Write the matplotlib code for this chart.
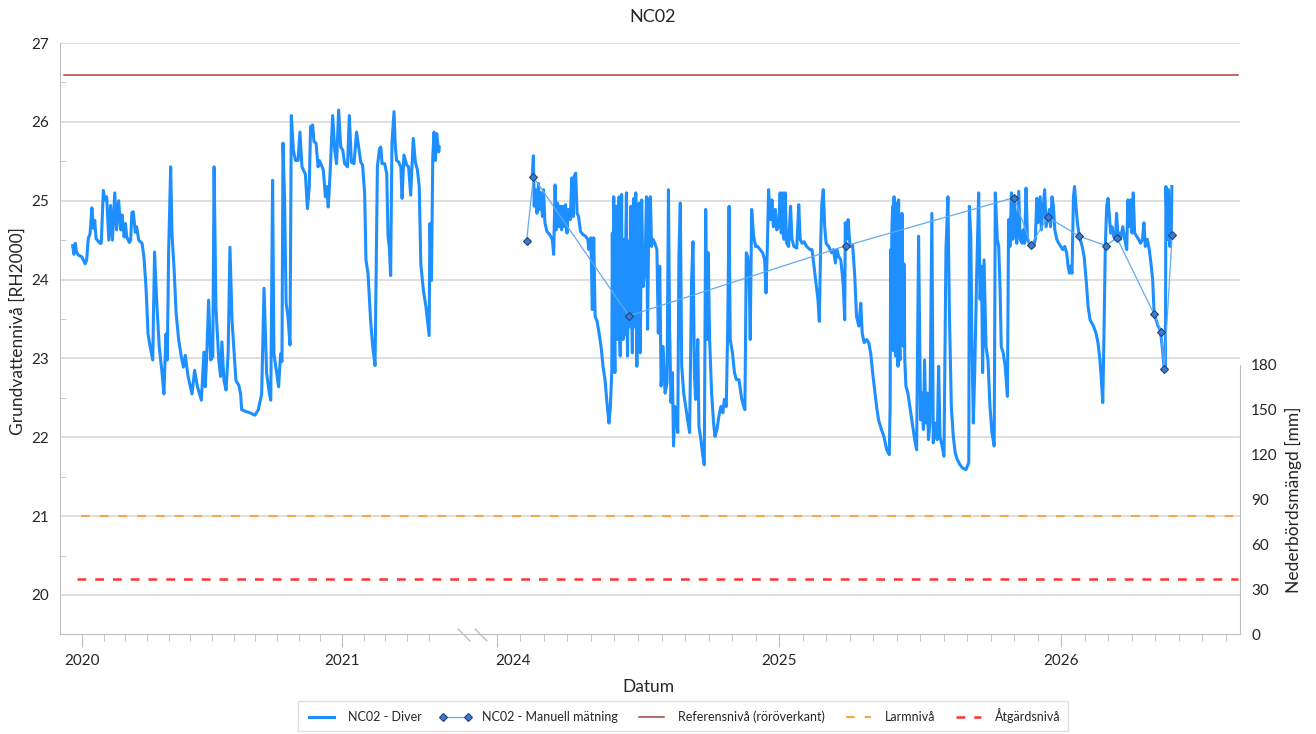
import numpy as np
import matplotlib
matplotlib.use("Agg")
import matplotlib.pyplot as plt
from matplotlib.transforms import ScaledTranslation, blended_transform_factory

plt.rcParams['font.family'] = ['Lato', 'DejaVu Sans']

###############################################
## Data
###############################################

# Diver logger, first period (2020 - spring 2021), decimal years
diver_a_year = [
    2019.964, 2019.969, 2019.974, 2019.979, 2019.986, 2019.999, 2020.012, 2020.018,
    2020.024, 2020.031, 2020.038, 2020.044, 2020.049, 2020.054, 2020.069, 2020.074,
    2020.082, 2020.088, 2020.095, 2020.103, 2020.110, 2020.117, 2020.126, 2020.133,
    2020.141, 2020.149, 2020.154, 2020.162, 2020.167, 2020.172, 2020.182, 2020.187,
    2020.192, 2020.197, 2020.205, 2020.210, 2020.218, 2020.231, 2020.238, 2020.246,
    2020.254, 2020.262, 2020.272, 2020.279, 2020.287, 2020.297, 2020.308, 2020.315,
    2020.323, 2020.328, 2020.333, 2020.341, 2020.346, 2020.354, 2020.362, 2020.372,
    2020.382, 2020.390, 2020.397, 2020.408, 2020.423, 2020.433, 2020.444, 2020.459,
    2020.469, 2020.474, 2020.479, 2020.487, 2020.495, 2020.503, 2020.508, 2020.515,
    2020.526, 2020.533, 2020.538, 2020.546, 2020.554, 2020.562, 2020.569, 2020.577,
    2020.592, 2020.603, 2020.610, 2020.614, 2020.627, 2020.646, 2020.665, 2020.678,
    2020.691, 2020.700, 2020.710, 2020.721, 2020.726, 2020.733, 2020.738, 2020.749,
    2020.756, 2020.764, 2020.769, 2020.773, 2020.779, 2020.785, 2020.792, 2020.800,
    2020.805, 2020.813, 2020.821, 2020.831, 2020.838, 2020.846, 2020.854, 2020.859,
    2020.867, 2020.874, 2020.879, 2020.887, 2020.892, 2020.900, 2020.908, 2020.913,
    2020.921, 2020.928, 2020.936, 2020.941, 2020.947, 2020.954, 2020.964, 2020.972,
    2020.979, 2020.987, 2020.995, 2021.003, 2021.010, 2021.021, 2021.028, 2021.036,
    2021.046, 2021.056, 2021.064, 2021.072, 2021.079, 2021.087, 2021.092, 2021.100,
    2021.110, 2021.118, 2021.127, 2021.136, 2021.144, 2021.149, 2021.154, 2021.164,
    2021.172, 2021.177, 2021.182, 2021.187, 2021.192, 2021.200, 2021.205, 2021.210,
    2021.218, 2021.226, 2021.231, 2021.238, 2021.249, 2021.256, 2021.264, 2021.274,
    2021.282, 2021.290, 2021.297, 2021.303, 2021.313, 2021.323, 2021.335, 2021.338,
    2021.344, 2021.349, 2021.354, 2021.359, 2021.364, 2021.372, 2021.374]
diver_a_level = [
    24.43, 24.32, 24.46, 24.35, 24.31, 24.29, 24.20, 24.25,
    24.52, 24.58, 24.91, 24.65, 24.75, 24.52, 24.46, 24.46,
    25.13, 25.01, 25.05, 24.50, 24.94, 24.50, 25.10, 24.63,
    25.00, 24.63, 24.82, 24.54, 24.71, 24.54, 24.47, 24.50,
    24.85, 24.86, 24.60, 24.67, 24.50, 24.46, 24.29, 23.91,
    23.31, 23.15, 22.98, 24.35, 23.74, 23.15, 22.81, 22.55,
    23.31, 22.98, 24.33, 25.43, 24.58, 24.14, 23.57, 23.23,
    23.02, 22.89, 23.04, 22.77, 22.55, 22.85, 22.64, 22.47,
    23.08, 22.64, 22.98, 23.74, 22.98, 23.02, 25.43, 23.65,
    22.98, 22.77, 23.21, 22.72, 22.60, 23.06, 24.41, 23.48,
    22.72, 22.66, 22.55, 22.35, 22.33, 22.31, 22.28, 22.35,
    22.55, 23.89, 22.81, 22.55, 22.47, 25.26, 23.06, 22.81,
    22.64, 23.06, 22.96, 25.73, 25.01, 23.70, 23.53, 23.17,
    26.08, 25.64, 25.51, 25.51, 25.87, 25.43, 25.37, 25.34,
    24.90, 25.18, 25.94, 25.96, 25.75, 25.73, 25.43, 25.51,
    25.45, 25.39, 25.05, 25.18, 24.92, 25.34, 26.08, 25.64,
    25.47, 26.15, 25.68, 25.64, 25.47, 25.43, 26.08, 25.49,
    25.47, 25.87, 25.68, 25.49, 25.45, 25.09, 24.25, 24.08,
    23.48, 23.15, 22.91, 25.43, 25.66, 25.68, 25.47, 25.47,
    25.34, 24.54, 24.41, 24.05, 25.73, 26.13, 25.68, 25.51,
    25.49, 25.43, 25.03, 25.58, 25.45, 25.43, 25.07, 25.79,
    25.49, 25.39, 25.18, 24.20, 23.86, 23.65, 23.29, 24.71,
    23.99, 25.56, 25.87, 25.51, 25.85, 25.62, 25.68]

# Diver logger, second period (2024 - 2026)
diver_b_year = [
    2024.125, 2024.129, 2024.132, 2024.137, 2024.142, 2024.147, 2024.151, 2024.156,
    2024.161, 2024.165, 2024.170, 2024.177, 2024.187, 2024.196, 2024.201, 2024.206,
    2024.210, 2024.215, 2024.220, 2024.225, 2024.229, 2024.234, 2024.239, 2024.243,
    2024.248, 2024.253, 2024.260, 2024.265, 2024.270, 2024.274, 2024.279, 2024.284,
    2024.289, 2024.296, 2024.305, 2024.314, 2024.322, 2024.326, 2024.333, 2024.338,
    2024.343, 2024.348, 2024.355, 2024.362, 2024.369, 2024.376, 2024.383, 2024.390,
    2024.397, 2024.402, 2024.407, 2024.409, 2024.411, 2024.414, 2024.416, 2024.418,
    2024.420, 2024.423, 2024.425, 2024.428, 2024.430, 2024.433, 2024.435, 2024.437,
    2024.440, 2024.442, 2024.444, 2024.447, 2024.449, 2024.452, 2024.454, 2024.457,
    2024.459, 2024.461, 2024.463, 2024.466, 2024.468, 2024.471, 2024.473, 2024.475,
    2024.478, 2024.480, 2024.482, 2024.485, 2024.487, 2024.490, 2024.492, 2024.494,
    2024.496, 2024.499, 2024.501, 2024.504, 2024.506, 2024.508, 2024.511, 2024.513,
    2024.518, 2024.525, 2024.530, 2024.534, 2024.539, 2024.544, 2024.548, 2024.553,
    2024.560, 2024.567, 2024.572, 2024.577, 2024.582, 2024.589, 2024.596, 2024.603,
    2024.608, 2024.612, 2024.617, 2024.622, 2024.626, 2024.631, 2024.636, 2024.641,
    2024.645, 2024.650, 2024.655, 2024.662, 2024.669, 2024.676, 2024.683, 2024.690,
    2024.695, 2024.700, 2024.704, 2024.712, 2024.716, 2024.723, 2024.730, 2024.735,
    2024.740, 2024.745, 2024.749, 2024.754, 2024.761, 2024.768, 2024.773, 2024.780,
    2024.787, 2024.794, 2024.801, 2024.806, 2024.813, 2024.818, 2024.823, 2024.827,
    2024.835, 2024.842, 2024.849, 2024.858, 2024.868, 2024.875, 2024.879, 2024.884,
    2024.889, 2024.894, 2024.898, 2024.903, 2024.910, 2024.917, 2024.924, 2024.933,
    2024.942, 2024.949, 2024.954, 2024.959, 2024.963, 2024.970, 2024.975, 2024.980,
    2024.987, 2024.992, 2024.999, 2025.004, 2025.008, 2025.013, 2025.018, 2025.022,
    2025.027, 2025.034, 2025.041, 2025.046, 2025.053, 2025.063, 2025.070, 2025.075,
    2025.082, 2025.089, 2025.098, 2025.110, 2025.117, 2025.124, 2025.131, 2025.138,
    2025.143, 2025.148, 2025.152, 2025.157, 2025.162, 2025.167, 2025.176, 2025.186,
    2025.193, 2025.200, 2025.205, 2025.212, 2025.219, 2025.224, 2025.228, 2025.233,
    2025.235, 2025.240, 2025.245, 2025.252, 2025.261, 2025.268, 2025.275, 2025.283,
    2025.290, 2025.295, 2025.302, 2025.311, 2025.318, 2025.325, 2025.332, 2025.339,
    2025.346, 2025.353, 2025.363, 2025.372, 2025.382, 2025.391, 2025.394, 2025.396,
    2025.398, 2025.400, 2025.403, 2025.405, 2025.408, 2025.410, 2025.413, 2025.415,
    2025.417, 2025.419, 2025.422, 2025.424, 2025.426, 2025.429, 2025.431, 2025.434,
    2025.436, 2025.438, 2025.441, 2025.443, 2025.446, 2025.450, 2025.457, 2025.464,
    2025.474, 2025.481, 2025.488, 2025.495, 2025.502, 2025.507, 2025.512, 2025.516,
    2025.521, 2025.526, 2025.530, 2025.535, 2025.542, 2025.547, 2025.554, 2025.561,
    2025.566, 2025.571, 2025.578, 2025.585, 2025.592, 2025.599, 2025.604, 2025.611,
    2025.618, 2025.625, 2025.632, 2025.642, 2025.651, 2025.663, 2025.673, 2025.675,
    2025.680, 2025.684, 2025.689, 2025.694, 2025.701, 2025.708, 2025.713, 2025.718,
    2025.722, 2025.727, 2025.734, 2025.741, 2025.748, 2025.755, 2025.763, 2025.767,
    2025.774, 2025.779, 2025.784, 2025.788, 2025.795, 2025.802, 2025.810, 2025.814,
    2025.819, 2025.824, 2025.829, 2025.833, 2025.838, 2025.843, 2025.850, 2025.855,
    2025.862, 2025.866, 2025.871, 2025.876, 2025.881, 2025.888, 2025.895, 2025.902,
    2025.909, 2025.914, 2025.918, 2025.926, 2025.930, 2025.937, 2025.942, 2025.947,
    2025.952, 2025.959, 2025.963, 2025.968, 2025.973, 2025.978, 2025.985, 2025.992,
    2025.999, 2026.006, 2026.013, 2026.020, 2026.025, 2026.030, 2026.034, 2026.039,
    2026.044, 2026.048, 2026.053, 2026.058, 2026.065, 2026.075, 2026.082, 2026.089,
    2026.096, 2026.103, 2026.115, 2026.124, 2026.131, 2026.138, 2026.143, 2026.148,
    2026.152, 2026.157, 2026.162, 2026.167, 2026.171, 2026.176, 2026.181, 2026.186,
    2026.193, 2026.197, 2026.202, 2026.207, 2026.211, 2026.219, 2026.226, 2026.233,
    2026.237, 2026.242, 2026.247, 2026.252, 2026.256, 2026.261, 2026.268, 2026.275,
    2026.282, 2026.289, 2026.294, 2026.299, 2026.306, 2026.313, 2026.320, 2026.325,
    2026.330, 2026.337, 2026.344, 2026.351, 2026.356, 2026.361, 2026.365, 2026.370,
    2026.372, 2026.377, 2026.381, 2026.386, 2026.391, 2026.393]
diver_b_level = [
    25.31, 25.57, 24.93, 25.14, 24.84, 25.22, 24.89, 25.10,
    24.80, 25.14, 24.72, 24.61, 24.57, 24.51, 24.32, 25.20,
    24.63, 24.97, 24.67, 24.93, 24.63, 24.93, 24.67, 24.95,
    24.59, 24.89, 24.76, 25.29, 24.80, 25.31, 25.35, 24.84,
    24.80, 24.61, 24.57, 24.55, 24.51, 24.38, 24.53, 23.62,
    24.53, 23.53, 23.47, 23.32, 23.15, 22.90, 22.73, 22.44,
    22.18, 22.39, 22.82, 24.59, 23.30, 25.05, 23.40, 22.82,
    24.40, 24.93, 23.35, 23.24, 24.50, 25.05, 23.30, 23.03,
    24.45, 25.08, 23.40, 23.24, 24.40, 24.51, 23.30, 24.60,
    25.10, 23.50, 23.03, 24.40, 23.53, 24.50, 23.40, 24.93,
    23.60, 23.07, 24.40, 25.03, 23.40, 24.50, 25.10, 23.50,
    22.90, 24.30, 23.60, 24.97, 23.70, 23.07, 24.20, 25.01,
    23.91, 24.17, 25.05, 23.37, 25.01, 25.05, 24.42, 24.51,
    24.46, 24.38, 23.32, 24.17, 22.65, 23.15, 22.56, 22.69,
    25.14, 23.41, 22.44, 22.82, 21.89, 22.39, 22.31, 22.06,
    24.29, 24.97, 22.90, 22.56, 22.39, 22.22, 22.06, 24.00,
    24.48, 22.82, 22.48, 23.24, 22.14, 21.97, 21.76, 21.65,
    24.89, 23.24, 24.34, 23.24, 22.56, 22.18, 22.01, 22.10,
    22.27, 22.39, 22.31, 22.48, 22.39, 23.37, 24.93, 23.24,
    23.07, 22.82, 22.73, 22.73, 22.48, 22.39, 22.35, 24.34,
    24.29, 24.04, 23.24, 24.89, 24.55, 24.42, 24.42, 24.38,
    24.34, 24.25, 23.83, 24.46, 25.14, 24.76, 25.01, 24.67,
    24.89, 24.63, 24.67, 25.10, 24.59, 25.10, 24.51, 25.10,
    24.46, 24.42, 24.93, 24.51, 24.42, 24.40, 24.95, 24.51,
    24.46, 24.48, 24.42, 24.38, 24.38, 24.17, 23.96, 23.75,
    23.47, 24.51, 24.97, 25.14, 24.67, 24.46, 24.42, 24.34,
    24.38, 24.21, 24.38, 24.29, 24.25, 24.08, 23.91, 23.49,
    24.72, 24.51, 24.76, 24.42, 24.44, 24.08, 23.53, 23.41,
    23.70, 23.32, 23.20, 23.24, 23.20, 23.07, 22.82, 22.60,
    22.39, 22.22, 22.10, 22.01, 21.84, 21.78, 22.39, 24.38,
    23.20, 24.60, 24.93, 23.10, 25.05, 23.30, 23.03, 24.50,
    24.97, 23.20, 22.90, 25.01, 23.30, 22.98, 24.40, 23.20,
    24.84, 23.40, 23.15, 24.20, 22.98, 22.65, 22.56, 22.39,
    22.14, 21.97, 21.84, 24.55, 22.22, 22.56, 22.10, 22.98,
    22.18, 22.56, 21.97, 22.18, 24.84, 21.93, 22.18, 21.97,
    22.90, 22.01, 21.89, 21.76, 24.38, 25.05, 23.62, 22.39,
    22.01, 21.80, 21.72, 21.65, 21.61, 21.59, 21.68, 24.93,
    24.55, 23.24, 22.18, 22.82, 24.08, 25.10, 23.75, 24.17,
    22.82, 24.25, 23.15, 22.98, 22.39, 22.06, 21.89, 25.10,
    24.51, 24.42, 23.87, 23.15, 23.07, 22.90, 22.52, 24.76,
    24.42, 25.10, 24.51, 25.05, 24.72, 24.46, 25.12, 24.51,
    24.46, 24.63, 24.46, 25.16, 24.51, 24.46, 24.44, 24.42,
    24.51, 25.03, 24.72, 25.05, 24.63, 24.93, 25.14, 24.67,
    24.76, 24.89, 24.67, 25.05, 24.93, 24.63, 24.51, 24.46,
    24.42, 24.38, 24.42, 24.34, 24.17, 24.08, 24.17, 24.08,
    25.05, 25.18, 24.93, 24.72, 24.55, 24.42, 24.29, 24.00,
    23.66, 23.49, 23.41, 23.32, 23.20, 22.98, 22.73, 22.44,
    23.24, 24.42, 24.93, 25.03, 24.84, 24.59, 24.67, 24.55,
    24.51, 24.84, 24.55, 24.59, 24.51, 24.67, 24.51, 24.38,
    25.01, 24.67, 25.01, 24.59, 25.10, 24.59, 24.55, 24.51,
    24.46, 24.51, 24.72, 24.42, 24.51, 24.38, 24.17, 24.00,
    23.58, 23.49, 23.41, 23.37, 23.24, 23.07, 22.90, 22.86,
    25.18, 24.51, 25.14, 24.42, 24.59, 25.18]

# Manual measurements
manual_year = [2024.105, 2024.129, 2024.468, 2025.238, 2025.834, 2025.893, 2025.953,
               2026.065, 2026.159, 2026.198, 2026.330, 2026.355, 2026.366, 2026.394]
manual_level = [24.49, 25.30, 23.54, 24.43, 25.04, 24.44, 24.79,
                24.55, 24.43, 24.53, 23.56, 23.34, 22.87, 24.56]

# Reference levels [start year, end year], level
ref_span, ref_level = [2019.931, 2026.628], 26.6
larm_span, larm_level = [2019.996, 2026.628], 21.0
atgard_span, atgard_level = [2019.981, 2026.628], 20.2

year_ticks = [2020, 2021, 2024, 2025, 2026]
rain_ticks = [0, 30, 60, 90, 120, 150, 180]

###############################################
## Broken time axis: 2020-2021 | 2024-2026
###############################################

def bx(year):
    year = np.asarray(year, dtype=float)
    return np.where(year < 2022.5, year - 2020.0, 1.596 + (year - 2024.0) * 1.0846)

grid_c = '#d9d9d9'
axis_c = '#bfbfbf'
text_c = '#262626'

fig = plt.figure(figsize=(13.16, 7.34), dpi=100)
ax = fig.add_axes([0.0456, 0.1357, 0.8967, 0.8057])
ax2 = ax.twinx()

ax.plot(bx(diver_a_year), diver_a_level, color='#1e8fff', lw=2.2,
        solid_joinstyle='round', zorder=3, label='NC02 - Diver')
ax.plot(bx(diver_b_year), diver_b_level, color='#1e8fff', lw=2.2,
        solid_joinstyle='round', zorder=3)
ax.plot(bx(manual_year), manual_level, color='#62aaf3', lw=0.9, marker='D', ms=4,
        mfc='#3a7bd5', mec='#24446e', mew=0.8, zorder=4, label='NC02 - Manuell mätning')

ax.plot(bx(ref_span), [ref_level, ref_level], color='#a8403c', lw=1.1, zorder=2,
        label='Referensnivå (röröverkant)')
ax.plot(bx(larm_span), [larm_level, larm_level], color='#ffa347', lw=1.5,
        dashes=(4.2, 4.8), zorder=2, label='Larmnivå')
ax.plot(bx(atgard_span), [atgard_level, atgard_level], color='#ff3333', lw=1.8,
        dashes=(3.5, 3.6), zorder=2, label='Åtgärdsnivå')

ax.set_xlim(-0.0846, 4.4538)
ax.set_ylim(19.5, 27)
ax.set_yticks(range(20, 28))
ax.set_yticks(np.arange(19.5, 27, 1.0), minor=True)
ax.grid(axis='y', which='major', color=grid_c, lw=1.2, zorder=0)
ax.set_axisbelow(True)

months_a = [2020 + m / 12 for m in range(0, 17) if m % 12]
months_b = [2024 + m / 12 for m in range(0, 32) if m % 12]
ax.set_xticks(bx(year_ticks))
ax.set_xticklabels([str(y) for y in year_ticks])
ax.set_xticks(bx(months_a + months_b), minor=True)

ax.tick_params(axis='x', which='major', length=9, color=axis_c, labelsize=11,
               labelcolor=text_c, pad=5)
ax.tick_params(axis='x', which='minor', length=5, color=axis_c)
ax.tick_params(axis='y', which='major', length=0, labelsize=11, labelcolor=text_c, pad=8)
ax.tick_params(axis='y', which='minor', direction='in', length=4, color=axis_c)

# 2024 label sits a bit right of its tick, clear of the break
for lab in ax.get_xticklabels():
    if lab.get_text() == '2024':
        lab.set_transform(lab.get_transform() + ScaledTranslation(0.16, 0, fig.dpi_scale_trans))

for s in ['top', 'right']:
    ax.spines[s].set_visible(False)
for s in ['left', 'bottom']:
    ax.spines[s].set_color(axis_c)

# axis break marks
tr = blended_transform_factory(ax.transData, ax.transAxes)
for x0 in [1.447, 1.512]:
    ax.plot([x0, x0 + 0.045], [0.009, -0.011], color=axis_c, lw=1.0,
            transform=tr, clip_on=False)

# precipitation axis (lower part only)
ax2.set_ylim(0, 395)
ax2.set_yticks(rain_ticks)
ax2.spines['right'].set_bounds(0, 180)
ax2.spines['right'].set_color(axis_c)
for s in ['top', 'left', 'bottom']:
    ax2.spines[s].set_visible(False)
ax2.tick_params(axis='y', length=0, labelsize=11, labelcolor=text_c, pad=8)

fig.text(653 / 1316, 1 - 17 / 734, 'NC02', ha='center', va='center', fontsize=13, color=text_c)
fig.text(648 / 1316, 1 - 687 / 734, 'Datum', ha='center', va='center', fontsize=12.5, color=text_c)
fig.text(18 / 1316, 1 - 331 / 734, 'Grundvattennivå [RH2000]', rotation=90,
         ha='center', va='center', fontsize=12.5, color=text_c)
fig.text(1293 / 1316, 1 - 500 / 734, 'Nederbördsmängd [mm]', rotation=90,
         ha='center', va='center', fontsize=12.5, color=text_c)

handles, labels = ax.get_legend_handles_labels()
leg = fig.legend(handles, labels, loc='center', bbox_to_anchor=(683 / 1316, 1 - 716 / 734),
                 ncol=5, fontsize=9, frameon=True, fancybox=False, edgecolor=grid_c,
                 numpoints=2, handlelength=2.6, columnspacing=1.4, borderpad=0.6)
for t in leg.get_texts():
    t.set_color(text_c)

fig.savefig('out.png', dpi=100)
